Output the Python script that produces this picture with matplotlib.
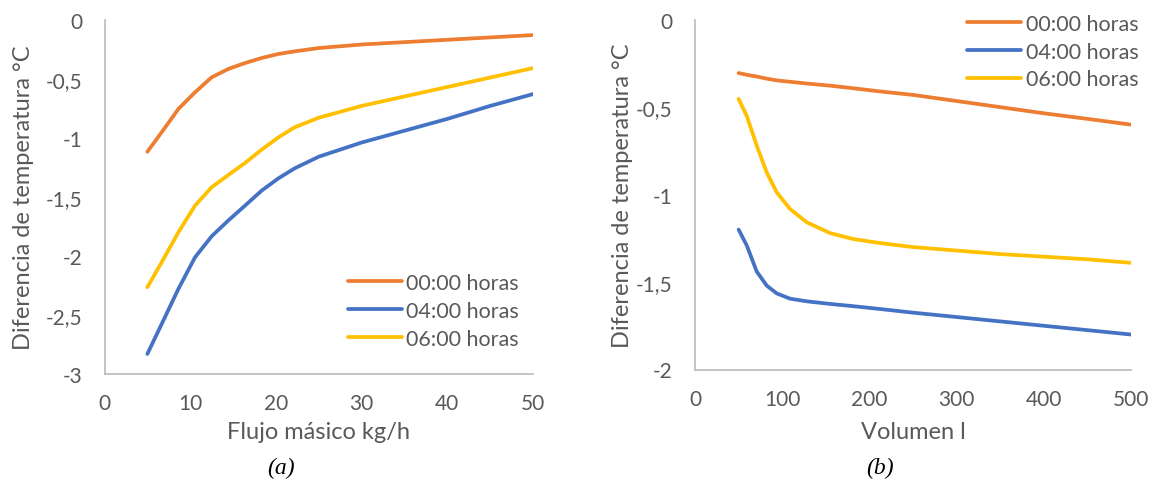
import matplotlib
matplotlib.use("Agg")
import matplotlib.pyplot as plt

# panel (a): flujo masico (kg/h)
flujo = [5, 6.67, 8.62, 10.56, 12.5, 14.45, 16.4, 18.34, 20.3, 22.2, 25, 30, 35, 40, 45, 50]
a_00 = [-1.118, -0.953, -0.756, -0.615, -0.488, -0.417, -0.367, -0.324, -0.290, -0.268,
        -0.24, -0.21, -0.19, -0.17, -0.15, -0.13]
a_04 = [-2.83, -2.577, -2.28, -2.012, -1.834, -1.70, -1.574, -1.447, -1.343, -1.258,
        -1.16, -1.04, -0.94, -0.84, -0.73, -0.63]
a_06 = [-2.265, -2.054, -1.80, -1.574, -1.419, -1.315, -1.213, -1.10, -0.996, -0.911,
        -0.83, -0.73, -0.65, -0.57, -0.49, -0.41]

# panel (b): volumen (l)
volumen = [50, 59.3, 70.8, 82.2, 93.7, 109, 128, 154.8, 181.5, 212, 250, 300, 350, 400, 450, 500]
b_00 = [-0.305, -0.315, -0.325, -0.337, -0.347, -0.355, -0.365, -0.377, -0.392, -0.41,
        -0.43, -0.465, -0.50, -0.535, -0.567, -0.60]
b_04 = [-1.20, -1.29, -1.44, -1.52, -1.565, -1.595, -1.61, -1.625, -1.638, -1.654,
        -1.675, -1.70, -1.725, -1.75, -1.775, -1.80]
b_06 = [-0.453, -0.549, -0.72, -0.873, -0.987, -1.082, -1.158, -1.22, -1.254, -1.277,
        -1.30, -1.32, -1.34, -1.355, -1.37, -1.39]

labels = ["00:00 horas", "04:00 horas", "06:00 horas"]
colors = ["#ED7D31", "#4472C4", "#FFC000"]
gray = "#595959"

plt.rcParams['font.family'] = ['Lato', 'DejaVu Sans']

W, H = 1153, 481
fig = plt.figure(figsize=(W / 100, H / 100), dpi=100)
ax1 = fig.add_axes([104.5 / W, 1 - 375 / H, 428.5 / W, 354.3 / H])
ax2 = fig.add_axes([695 / W, 1 - 370.5 / H, 436 / W, 349.8 / H])


def style(ax, xlim, ylim, xticks, yticks, xlabel, xl_y, yl_x):
    ax.set_xlim(*xlim)
    ax.set_ylim(*ylim)
    ax.set_xticks(xticks)
    ax.set_yticks(yticks)
    ax.set_yticklabels([("%g" % t).replace(".", ",") for t in yticks])
    for s in ["top", "right"]:
        ax.spines[s].set_visible(False)
    for s in ["left", "bottom"]:
        ax.spines[s].set_color("#BFBFBF")
        ax.spines[s].set_linewidth(1.3)
    ax.tick_params(length=0, labelsize=15, colors=gray)
    ax.tick_params(axis="y", pad=16)
    ax.tick_params(axis="x", pad=14)
    ax.set_xlabel(xlabel, fontsize=17, color=gray, va="center")
    ax.set_ylabel("Diferencia de temperatura °C", fontsize=17, color=gray, va="center")
    ax.xaxis.set_label_coords(0.5, xl_y)
    ax.yaxis.set_label_coords(yl_x, 0.5)


for y, c, l in zip([a_00, a_04, a_06], colors, labels):
    ax1.plot(flujo, y, color=c, lw=2.7, label=l, solid_capstyle="round")
for y, c, l in zip([b_00, b_04, b_06], colors, labels):
    ax2.plot(volumen, y, color=c, lw=2.7, label=l, solid_capstyle="round")

style(ax1, (0, 50), (-3, 0), range(0, 51, 10), [0, -0.5, -1, -1.5, -2, -2.5, -3],
      "Flujo másico kg/h", -0.161, -0.188)
style(ax2, (0, 500), (-2, 0), range(0, 501, 100), [0, -0.5, -1, -1.5, -2],
      "Volumen l", -0.176, -0.166)

legend_kw = dict(loc="upper left", frameon=False, fontsize=15.5, handlelength=2.5,
                 handletextpad=0.2, labelspacing=0.36, borderpad=0, borderaxespad=0,
                 bbox_transform=fig.transFigure)
leg1 = ax1.legend(bbox_to_anchor=(347.8 / W, 1 - 274 / H), **legend_kw)
leg2 = ax2.legend(bbox_to_anchor=(967.5 / W, 1 - 15 / H), **legend_kw)
for leg in (leg1, leg2):
    for t in leg.get_texts():
        t.set_color(gray)

fig.text(281 / W, 1 - 468 / H, "(a)", fontsize=17, style="italic", family="Liberation Serif",
         ha="center", va="center")
fig.text(880 / W, 1 - 468 / H, "(b)", fontsize=17, style="italic", family="Liberation Serif",
         ha="center", va="center")

fig.savefig("out.png", dpi=100, facecolor="white")
